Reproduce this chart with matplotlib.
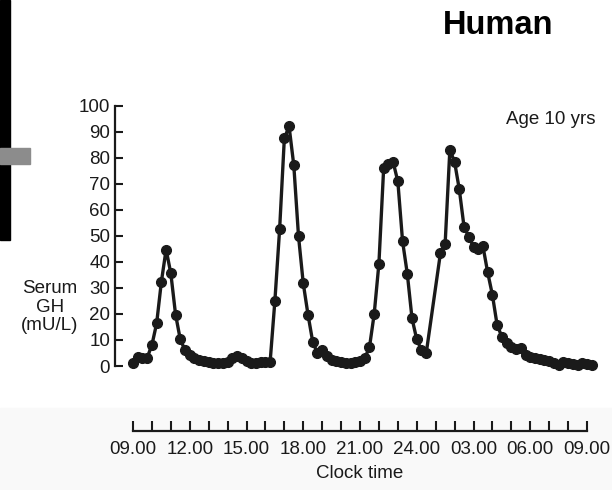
import numpy as np
import matplotlib.pyplot as plt
from matplotlib.ticker import MultipleLocator
from matplotlib.patches import Rectangle

plt.rcParams['font.family'] = ['Liberation Sans', 'DejaVu Sans']

# Serum GH (mU/L), one blood sample every 15 min starting 09.00
# (nan = no sample taken)
nan = np.nan
gh = [1.3, 3.6, 3.0, 3.2, 8.1, 16.4, 32.4, 44.8, 35.6, 19.8,
      10.2, 6.1, 4.2, 2.9, 2.3, 1.8, 1.5, 1.3, 1.3, 1.3,
      1.5, 3.0, 3.8, 3.0, 1.8, 1.3, 1.3, 1.5, 1.5, 1.7,
      25.0, 52.5, 87.5, 92.2, 77.2, 49.9, 31.8, 19.8, 9.3, 4.9,
      6.3, 3.8, 2.5, 2.0, 1.5, 1.3, 1.3, 1.5, 2.0, 3.0,
      7.2, 20.0, 39.4, 76.0, 77.5, 78.5, 71.0, 48.0, 35.5, 18.3,
      10.2, 6.1, 4.9, nan, nan, 43.3, 46.9, 83.2, 78.5, 67.9,
      53.5, 49.7, 45.8, 45.0, 46.0, 36.0, 27.3, 15.7, 11.3, 8.7,
      7.2, 6.5, 6.8, 4.2, 3.6, 3.2, 2.6, 2.2, 2.0, 1.0,
      0.5, 1.7, 1.3, 0.7, 0.4, 1.3, 0.8, 0.4]
sample_step_h = 0.25

clock_hours = [0, 3, 6, 9, 12, 15, 18, 21, 24]
clock_labels = ['09.00', '12.00', '15.00', '18.00', '21.00',
                '24.00', '03.00', '06.00', '09.00']
y_ticks = [0, 10, 20, 30, 40, 50, 60, 70, 80, 90, 100]

W, H = 612, 490
ink = '#1a1a1a'
fs = 13.5

fig = plt.figure(figsize=(W / 100, H / 100), dpi=100)

# bits of the slide frame / scan background
fig.patches.append(Rectangle((0, 0), 1, 1 - 408 / H, transform=fig.transFigure,
                             color='#f9f9f9', zorder=-10))
fig.patches.append(Rectangle((0, 1 - 240 / H), 10 / W, 240 / H,
                             transform=fig.transFigure, color='black', zorder=-9))
fig.patches.append(Rectangle((0, 1 - 164 / H), 30 / W, 16 / H,
                             transform=fig.transFigure, color='#8c8c8c', zorder=-8))

# axes box in pixels: x 115..605, y 100..372
ax = fig.add_axes([115 / W, 1 - 372 / H, 490 / W, 272 / H])
ax.patch.set_alpha(0)
px_per_h = (587 - 133) / 24
ax.set_xlim(-(133 - 115) / px_per_h, 24 + (605 - 587) / px_per_h)
ax.set_ylim(-6 / 2.6, 100 + 6 / 2.6)

g = np.array(gh)
t = np.arange(len(g)) * sample_step_h
ok = ~np.isnan(g)
ax.plot(t[ok], g[ok], '-o', color=ink, lw=2.4, ms=7, clip_on=False)

for s in ['top', 'right']:
    ax.spines[s].set_visible(False)
ax.spines['left'].set_bounds(0, 100)
ax.spines['bottom'].set_bounds(0, 24)
ax.spines['bottom'].set_position(('outward', 42.5))
for s in ['left', 'bottom']:
    ax.spines[s].set_linewidth(1.6)
    ax.spines[s].set_color(ink)

ax.set_yticks(y_ticks)
ax.set_xticks(clock_hours)
ax.set_xticklabels(clock_labels)
ax.xaxis.set_minor_locator(MultipleLocator(1))
ax.tick_params(axis='x', which='both', direction='in', length=7, width=1.5,
               color=ink, pad=7, labelsize=fs, labelcolor=ink)
ax.tick_params(axis='y', direction='in', length=6, width=1.5,
               color=ink, pad=3.5, labelsize=fs, labelcolor=ink)
ax.set_xlabel('Clock time', fontsize=fs, color=ink, labelpad=5)

fig.text(50 / W, 1 - 307 / H, 'Serum\nGH\n(mU/L)', ha='center', va='center',
         fontsize=fs, color=ink, linespacing=1.1)
fig.text(551 / W, 1 - 119 / H, 'Age 10 yrs', ha='center', va='center',
         fontsize=fs, color=ink)
fig.text(498 / W, 1 - 25 / H, 'Human', ha='center', va='center',
         fontsize=23.5, fontweight='bold', color='black')

fig.savefig('out.png', dpi=100)
